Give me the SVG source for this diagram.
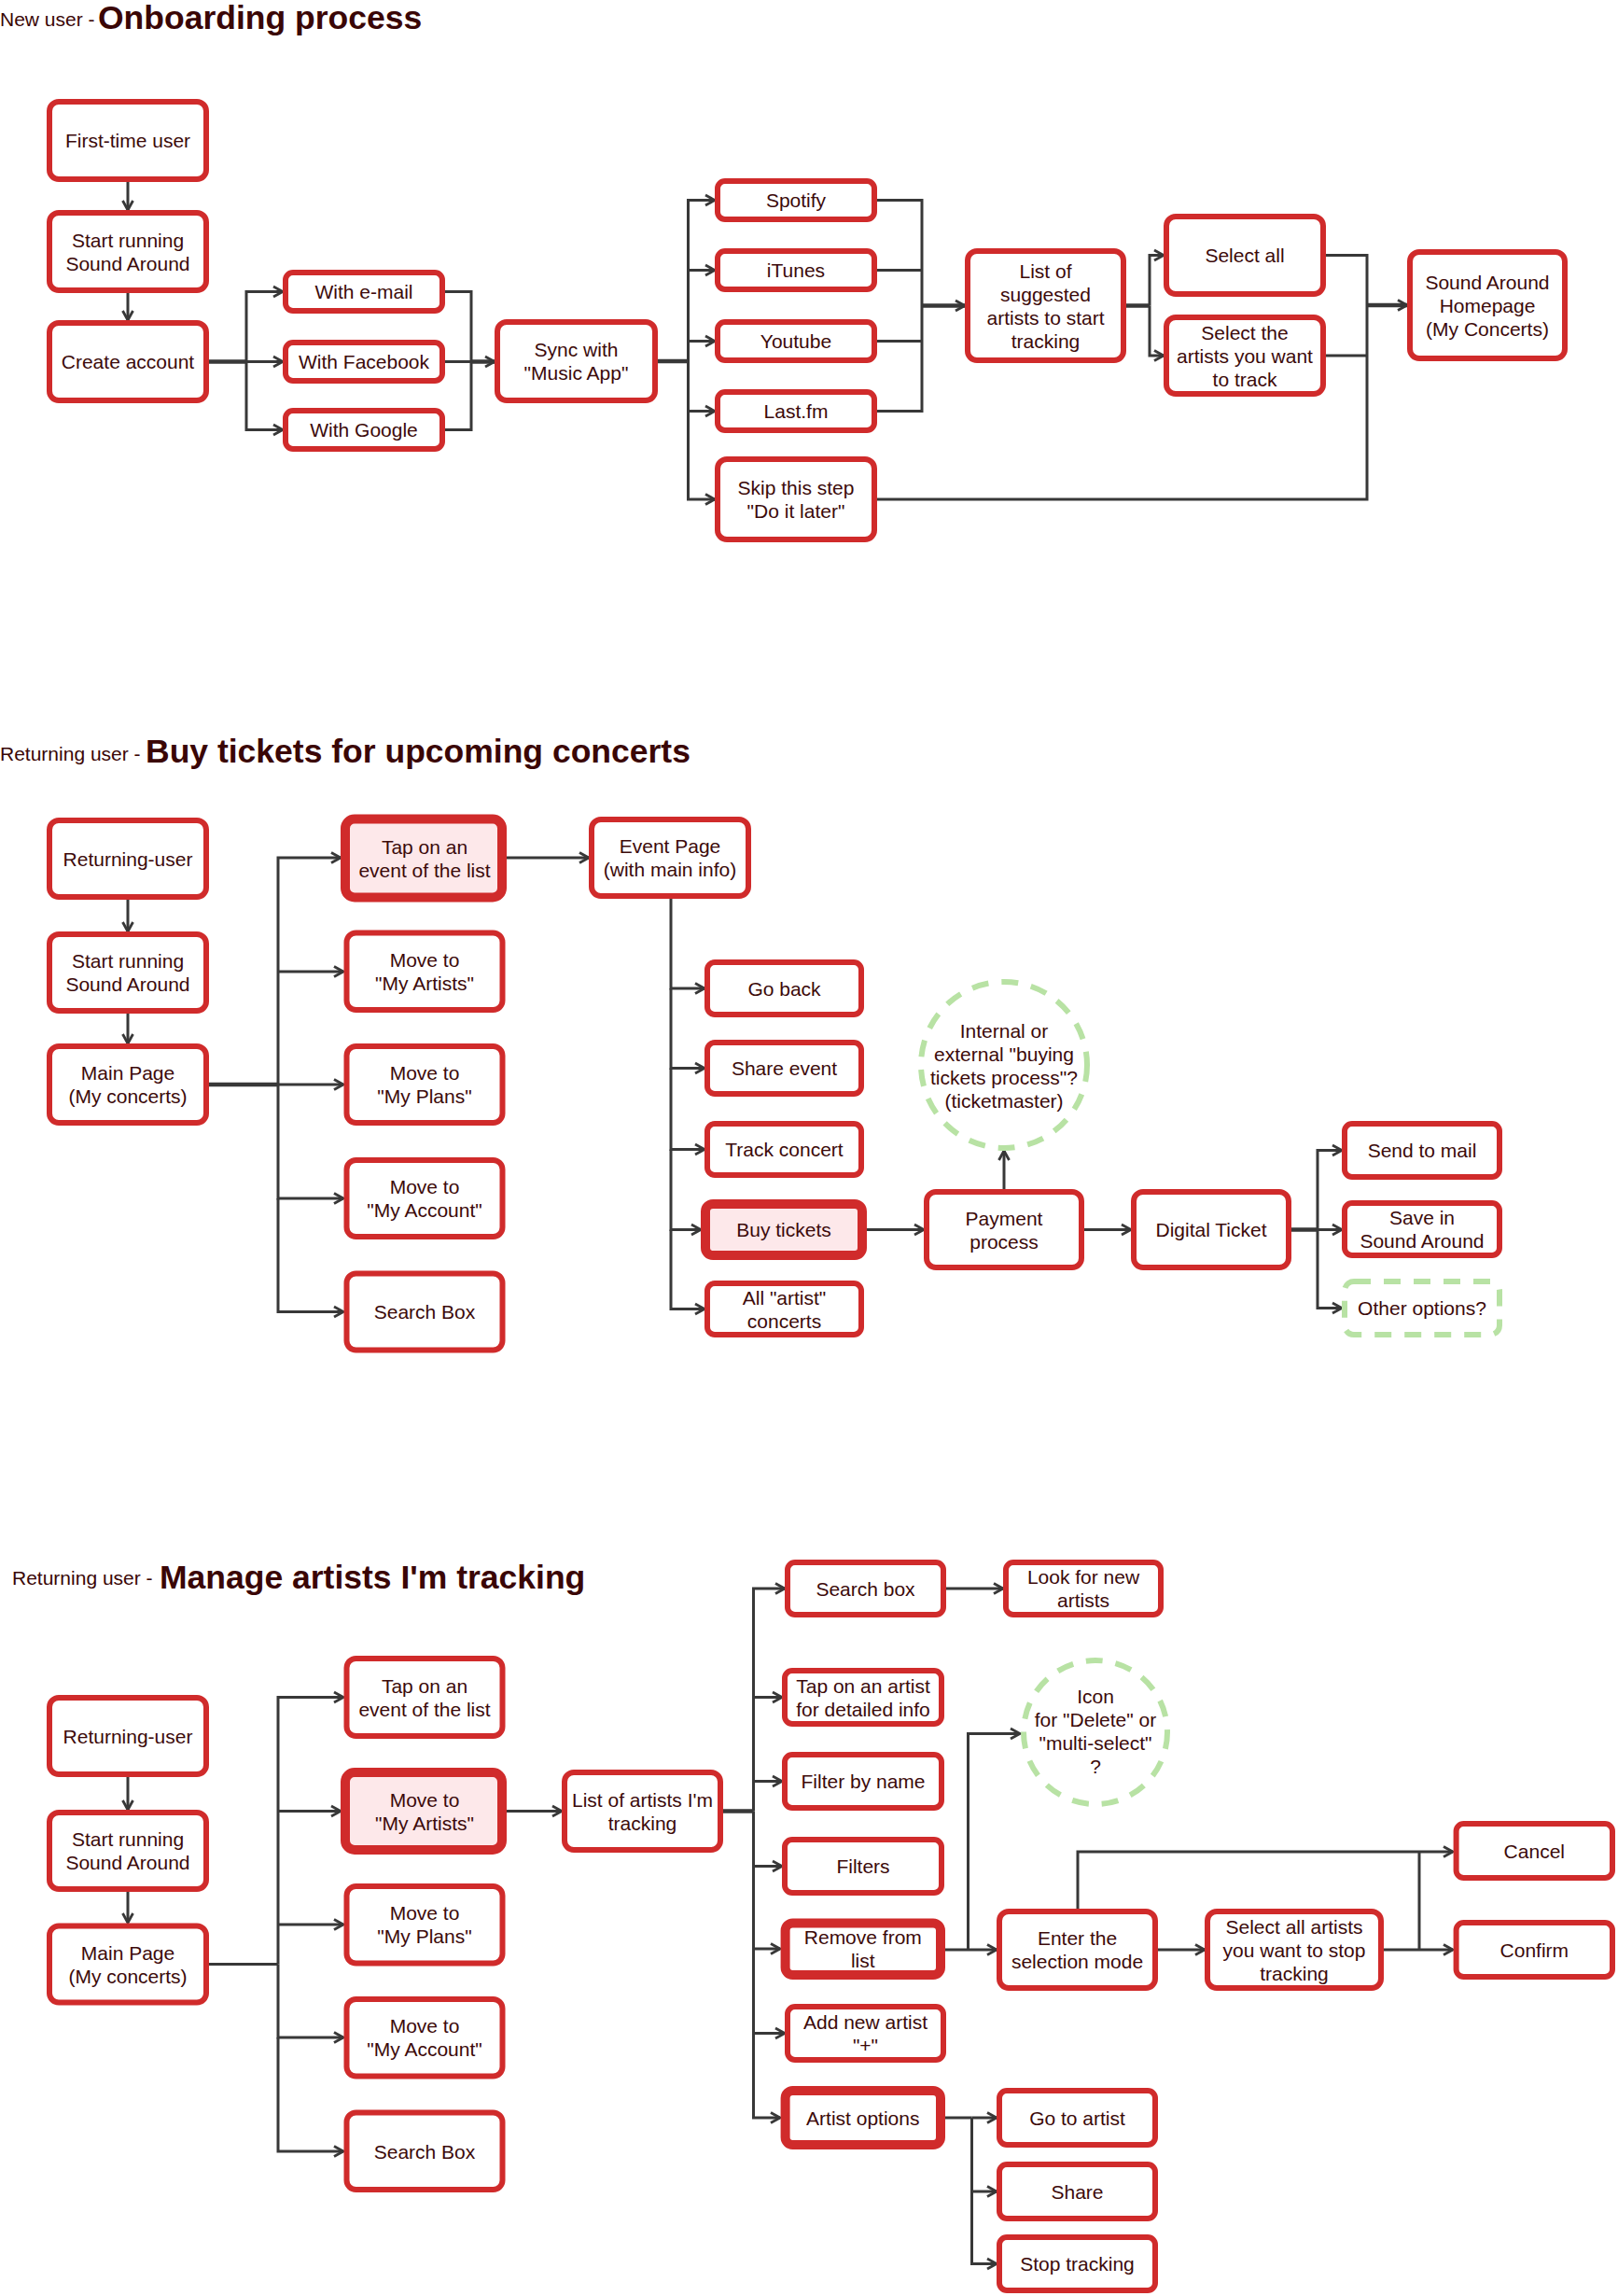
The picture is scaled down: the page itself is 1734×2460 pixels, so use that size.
<svg xmlns="http://www.w3.org/2000/svg" width="1734" height="2460" viewBox="0 0 1734 2460">
<defs>
<style>
.n{fill:#fff;stroke:#d02b2b;stroke-width:6}
.h{fill:#fde8ea;stroke:#d02b2b;stroke-width:10}
.g{fill:#fff;stroke:#b8e2a4;stroke-width:6;stroke-dasharray:18 14}
.t{font-family:"Liberation Sans",Arial,sans-serif;font-size:21px;fill:#3c0a0a;text-anchor:middle}
.sub{font-family:"Liberation Sans",Arial,sans-serif;font-size:21px;fill:#3a0606}
.ttl{font-family:"Liberation Sans",Arial,sans-serif;font-size:35.5px;font-weight:bold;fill:#3a0606}
.c{fill:none;stroke:#383838;stroke-width:3}
.a{marker-end:url(#ar)}
.k{stroke-width:4.5}
</style>
<marker id="ar" markerUnits="userSpaceOnUse" markerWidth="16" markerHeight="16" refX="13" refY="8" orient="auto">
<path d="M3,2.5 L13,8 L3,13.5" fill="none" stroke="#383838" stroke-width="2.8"/>
</marker>
</defs>
<rect width="1734" height="2460" fill="#fff"/>

<!-- Titles -->
<text class="sub" x="0" y="28">New user -</text>
<text class="ttl" x="105" y="31">Onboarding process</text>
<text class="sub" x="0" y="815">Returning user -</text>
<text class="ttl" x="156" y="817">Buy tickets for upcoming concerts</text>
<text class="sub" x="13" y="1698">Returning user -</text>
<text class="ttl" x="171" y="1702">Manage artists I'm tracking</text>

<!-- Connectors -->
<g id="connectors">
<!-- Section 1 -->
<path class="c a" d="M137,195 V225"/>
<path class="c a" d="M137,314 V343"/>
<path class="c k" d="M224,387.5 H264"/>
<path class="c a" d="M264,387.5 V312.5 H303"/>
<path class="c a" d="M264,387.5 H303"/>
<path class="c a" d="M264,387.5 V460.5 H303"/>
<path class="c" d="M477,312.5 H505 V460.5 H477"/>
<path class="c" d="M477,387.5 H505"/>
<path class="c k a" d="M505,387.5 H530"/>
<path class="c k" d="M705,387 H737.5"/>
<path class="c a" d="M737.5,387 V214.5 H766"/>
<path class="c a" d="M737.5,289.5 H766"/>
<path class="c a" d="M737.5,365.5 H766"/>
<path class="c a" d="M737.5,387 V440.5 H766"/>
<path class="c a" d="M737.5,440.5 V535 H766"/>
<path class="c" d="M940,214.5 H988 V440.5 H940"/>
<path class="c" d="M940,289.5 H988 M940,365.5 H988"/>
<path class="c k a" d="M988,327.5 H1034"/>
<path class="c k" d="M1207,327.5 H1232"/>
<path class="c a" d="M1232,327.5 V273.5 H1247"/>
<path class="c a" d="M1232,327.5 V381 H1247"/>
<path class="c" d="M1421,273.5 H1465 V535 H940"/>
<path class="c" d="M1421,381 H1465"/>
<path class="c k a" d="M1465,327 H1508"/>
<!-- Section 2 -->
<path class="c a" d="M137,964 V998"/>
<path class="c a" d="M137,1086 V1118"/>
<path class="c k" d="M223,1162 H298"/>
<path class="c a" d="M298,1162 V919 H365"/>
<path class="c a" d="M298,1041 H368"/>
<path class="c a" d="M298,1162 H368"/>
<path class="c a" d="M298,1162 V1284 H368"/>
<path class="c a" d="M298,1284 V1405.5 H368"/>
<path class="c a" d="M543,919 H631"/>
<path class="c a" d="M719,963 V1059 H755"/>
<path class="c a" d="M719,1059 V1144.5 H755"/>
<path class="c a" d="M719,1144.5 V1231.5 H755"/>
<path class="c a" d="M719,1231.5 V1317.5 H751"/>
<path class="c a" d="M719,1317.5 V1402.5 H755"/>
<path class="c a" d="M929,1317.5 H990"/>
<path class="c a" d="M1076,1274 V1233"/>
<path class="c a" d="M1162,1317.5 H1212"/>
<path class="c k" d="M1384,1317.5 H1412"/>
<path class="c a" d="M1412,1317.5 V1232.5 H1438"/>
<path class="c a" d="M1412,1317.5 H1438"/>
<path class="c a" d="M1412,1317.5 V1401.5 H1438"/>
<!-- Section 3 -->
<path class="c a" d="M137,1904 V1939"/>
<path class="c a" d="M137,2027 V2060"/>
<path class="c" d="M223,2104.5 H298"/>
<path class="c a" d="M298,2104.5 V1818.5 H368"/>
<path class="c a" d="M298,1940.5 H365"/>
<path class="c a" d="M298,2062 H368"/>
<path class="c a" d="M298,2104.5 V2183 H368"/>
<path class="c a" d="M298,2183 V2305 H368"/>
<path class="c a" d="M543,1940.5 H602"/>
<path class="c k" d="M775,1940.5 H807.5"/>
<path class="c a" d="M807.5,1940.5 V1702 H841"/>
<path class="c a" d="M807.5,1818.5 H838"/>
<path class="c a" d="M807.5,1908.5 H838"/>
<path class="c a" d="M807.5,1940.5 V1999.5 H838"/>
<path class="c a" d="M807.5,1999.5 V2088 H836"/>
<path class="c a" d="M807.5,2088 V2178.5 H841"/>
<path class="c a" d="M807.5,2178.5 V2269 H836"/>
<path class="c a" d="M1014,1702 H1075"/>
<path class="c a" d="M1013,2089 H1068"/>
<path class="c a" d="M1037.5,2089 V1857.5 H1093"/>
<path class="c a" d="M1241,2089 H1291"/>
<path class="c a" d="M1155,2045 V1984 H1557"/>
<path class="c a" d="M1483,2089 H1557"/>
<path class="c" d="M1521,2089 V1984"/>
<path class="c" d="M1013,2269 H1041.5"/>
<path class="c a" d="M1041.5,2269 H1068"/>
<path class="c a" d="M1041.5,2269 V2348 H1068"/>
<path class="c a" d="M1041.5,2348 V2425.5 H1068"/>
</g>

<!-- Section 1 nodes -->
<g id="first-time-user"><rect class="n" x="53" y="109" width="168" height="83" rx="10"/><text class="t" x="137" y="158">First-time user</text></g>
<g id="start-running-1"><rect class="n" x="53" y="228" width="168" height="83" rx="10"/><text class="t" x="137" y="264.5">Start running</text><text class="t" x="137" y="289.5">Sound Around</text></g>
<g id="create-account"><rect class="n" x="53" y="346" width="168" height="83" rx="10"/><text class="t" x="137" y="395">Create account</text></g>
<g id="with-email"><rect class="n" x="306" y="292" width="168" height="41" rx="8"/><text class="t" x="390" y="320">With e-mail</text></g>
<g id="with-facebook"><rect class="n" x="306" y="367" width="168" height="41" rx="8"/><text class="t" x="390" y="395">With Facebook</text></g>
<g id="with-google"><rect class="n" x="306" y="440" width="168" height="41" rx="8"/><text class="t" x="390" y="468">With Google</text></g>
<g id="sync"><rect class="n" x="533" y="345" width="169" height="84" rx="10"/><text class="t" x="617.5" y="382">Sync with</text><text class="t" x="617.5" y="407">"Music App"</text></g>
<g id="spotify"><rect class="n" x="769" y="194" width="168" height="41" rx="8"/><text class="t" x="853" y="222">Spotify</text></g>
<g id="itunes"><rect class="n" x="769" y="269" width="168" height="41" rx="8"/><text class="t" x="853" y="297">iTunes</text></g>
<g id="youtube"><rect class="n" x="769" y="345" width="168" height="41" rx="8"/><text class="t" x="853" y="373">Youtube</text></g>
<g id="lastfm"><rect class="n" x="769" y="420" width="168" height="41" rx="8"/><text class="t" x="853" y="448">Last.fm</text></g>
<g id="skip"><rect class="n" x="769" y="492" width="168" height="86" rx="10"/><text class="t" x="853" y="530">Skip this step</text><text class="t" x="853" y="555">"Do it later"</text></g>
<g id="suggested-list"><rect class="n" x="1037" y="269" width="167" height="117" rx="10"/><text class="t" x="1120.5" y="297.5">List of</text><text class="t" x="1120.5" y="322.5">suggested</text><text class="t" x="1120.5" y="347.5">artists to start</text><text class="t" x="1120.5" y="372.5">tracking</text></g>
<g id="select-all"><rect class="n" x="1250" y="232" width="168" height="83" rx="10"/><text class="t" x="1334" y="281">Select all</text></g>
<g id="select-the-artists"><rect class="n" x="1250" y="340" width="168" height="82" rx="10"/><text class="t" x="1334" y="363.5">Select the</text><text class="t" x="1334" y="388.5">artists you want</text><text class="t" x="1334" y="413.5">to track</text></g>
<g id="homepage"><rect class="n" x="1511" y="270" width="166" height="114" rx="10"/><text class="t" x="1594" y="309.5">Sound Around</text><text class="t" x="1594" y="334.5">Homepage</text><text class="t" x="1594" y="359.5">(My Concerts)</text></g>

<!-- Section 2 nodes -->
<g id="returning-user-2"><rect class="n" x="53" y="879" width="168" height="82" rx="10"/><text class="t" x="137" y="927.5">Returning-user</text></g>
<g id="start-running-2"><rect class="n" x="53" y="1001" width="168" height="82" rx="10"/><text class="t" x="137" y="1037">Start running</text><text class="t" x="137" y="1062">Sound Around</text></g>
<g id="main-page-2"><rect class="n" x="53" y="1121" width="168" height="82" rx="10"/><text class="t" x="137" y="1157">Main Page</text><text class="t" x="137" y="1182">(My concerts)</text></g>
<g id="tap-event-2"><rect class="h" x="370" y="877.5" width="168" height="84" rx="10"/><text class="t" x="455" y="914.5">Tap on an</text><text class="t" x="455" y="939.5">event of the list</text></g>
<g id="my-artists-2"><rect class="n" x="371.5" y="999.5" width="167" height="82.5" rx="10"/><text class="t" x="455" y="1036">Move to</text><text class="t" x="455" y="1061">"My Artists"</text></g>
<g id="my-plans-2"><rect class="n" x="371.5" y="1121" width="167" height="82" rx="10"/><text class="t" x="455" y="1157">Move to</text><text class="t" x="455" y="1182">"My Plans"</text></g>
<g id="my-account-2"><rect class="n" x="371.5" y="1243" width="167" height="82" rx="10"/><text class="t" x="455" y="1279">Move to</text><text class="t" x="455" y="1304">"My Account"</text></g>
<g id="search-box-2"><rect class="n" x="371.5" y="1364.5" width="167" height="82" rx="10"/><text class="t" x="455" y="1413">Search Box</text></g>
<g id="event-page"><rect class="n" x="634" y="878" width="168" height="82" rx="10"/><text class="t" x="718" y="914">Event Page</text><text class="t" x="718" y="939">(with main info)</text></g>
<g id="go-back"><rect class="n" x="758" y="1031" width="165" height="56" rx="8"/><text class="t" x="840.5" y="1066.5">Go back</text></g>
<g id="share-event"><rect class="n" x="758" y="1117" width="165" height="55" rx="8"/><text class="t" x="840.5" y="1152">Share event</text></g>
<g id="track-concert"><rect class="n" x="758" y="1204" width="165" height="55" rx="8"/><text class="t" x="840.5" y="1239">Track concert</text></g>
<g id="buy-tickets"><rect class="h" x="756" y="1290" width="168" height="55" rx="8"/><text class="t" x="840" y="1325">Buy tickets</text></g>
<g id="all-artist-concerts"><rect class="n" x="758" y="1375" width="165" height="55" rx="8"/><text class="t" x="840.5" y="1397.5">All "artist"</text><text class="t" x="840.5" y="1422.5">concerts</text></g>
<g id="payment"><rect class="n" x="993" y="1277" width="166" height="81" rx="10"/><text class="t" x="1076" y="1312.5">Payment</text><text class="t" x="1076" y="1337.5">process</text></g>
<g id="digital-ticket"><rect class="n" x="1215" y="1277" width="166" height="81" rx="10"/><text class="t" x="1298" y="1325">Digital Ticket</text></g>
<g id="buying-process-note"><circle class="g" cx="1076" cy="1141" r="89"/><text class="t" x="1076" y="1112">Internal or</text><text class="t" x="1076" y="1137">external "buying</text><text class="t" x="1076" y="1162">tickets process"?</text><text class="t" x="1076" y="1187">(ticketmaster)</text></g>
<g id="send-to-mail"><rect class="n" x="1441" y="1204" width="166" height="57" rx="8"/><text class="t" x="1524" y="1240">Send to mail</text></g>
<g id="save-in"><rect class="n" x="1441" y="1289" width="166" height="56" rx="8"/><text class="t" x="1524" y="1312">Save in</text><text class="t" x="1524" y="1337">Sound Around</text></g>
<g id="other-options"><rect class="g" x="1441" y="1373" width="166" height="57" rx="10"/><text class="t" x="1524" y="1409">Other options?</text></g>

<!-- Section 3 nodes -->
<g id="returning-user-3"><rect class="n" x="53" y="1819" width="168" height="82" rx="10"/><text class="t" x="137" y="1867.5">Returning-user</text></g>
<g id="start-running-3"><rect class="n" x="53" y="1942" width="168" height="82" rx="10"/><text class="t" x="137" y="1978">Start running</text><text class="t" x="137" y="2003">Sound Around</text></g>
<g id="main-page-3"><rect class="n" x="53" y="2063.5" width="168" height="82" rx="10"/><text class="t" x="137" y="2099.5">Main Page</text><text class="t" x="137" y="2124.5">(My concerts)</text></g>
<g id="tap-event-3"><rect class="n" x="371.5" y="1777" width="167" height="83" rx="10"/><text class="t" x="455" y="1813.5">Tap on an</text><text class="t" x="455" y="1838.5">event of the list</text></g>
<g id="my-artists-3"><rect class="h" x="370" y="1899" width="168" height="83" rx="10"/><text class="t" x="455" y="1935.5">Move to</text><text class="t" x="455" y="1960.5">"My Artists"</text></g>
<g id="my-plans-3"><rect class="n" x="371.5" y="2021" width="167" height="82.5" rx="10"/><text class="t" x="455" y="2057">Move to</text><text class="t" x="455" y="2082">"My Plans"</text></g>
<g id="my-account-3"><rect class="n" x="371.5" y="2142" width="167" height="82.5" rx="10"/><text class="t" x="455" y="2178">Move to</text><text class="t" x="455" y="2203">"My Account"</text></g>
<g id="search-box-3"><rect class="n" x="371.5" y="2263.5" width="167" height="82.5" rx="10"/><text class="t" x="455" y="2312.5">Search Box</text></g>
<g id="artists-list"><rect class="n" x="605" y="1899" width="167" height="83" rx="10"/><text class="t" x="688.5" y="1935.5">List of artists I'm</text><text class="t" x="688.5" y="1960.5">tracking</text></g>
<g id="search-box-list"><rect class="n" x="844" y="1674" width="167" height="56" rx="8"/><text class="t" x="927.5" y="1709.5">Search box</text></g>
<g id="look-for-new"><rect class="n" x="1078" y="1674" width="166" height="56" rx="8"/><text class="t" x="1161" y="1697">Look for new</text><text class="t" x="1161" y="1722">artists</text></g>
<g id="tap-artist"><rect class="n" x="841" y="1790" width="168" height="57" rx="8"/><text class="t" x="925" y="1813.5">Tap on an artist</text><text class="t" x="925" y="1838.5">for detailed info</text></g>
<g id="filter-by-name"><rect class="n" x="841" y="1880" width="168" height="57" rx="8"/><text class="t" x="925" y="1916">Filter by name</text></g>
<g id="filters"><rect class="n" x="841" y="1971" width="168" height="57" rx="8"/><text class="t" x="925" y="2007">Filters</text></g>
<g id="remove-from-list"><rect class="h" x="841.6" y="2060.5" width="166.4" height="55.5" rx="8" style="fill:#fff"/><text class="t" x="924.8" y="2083">Remove from</text><text class="t" x="924.8" y="2108">list</text></g>
<g id="add-new-artist"><rect class="n" x="844" y="2150" width="167" height="57" rx="8"/><text class="t" x="927.5" y="2173.5">Add new artist</text><text class="t" x="927.5" y="2198.5">"+"</text></g>
<g id="artist-options"><rect class="h" x="841.6" y="2240" width="166.4" height="58" rx="8" style="fill:#fff"/><text class="t" x="924.8" y="2276.5">Artist options</text></g>
<g id="go-to-artist"><rect class="n" x="1071" y="2240" width="167" height="58" rx="8"/><text class="t" x="1154.5" y="2276.5">Go to artist</text></g>
<g id="share"><rect class="n" x="1071" y="2319" width="167" height="58" rx="8"/><text class="t" x="1154.5" y="2355.5">Share</text></g>
<g id="stop-tracking"><rect class="n" x="1071" y="2397" width="167" height="57" rx="8"/><text class="t" x="1154.5" y="2433">Stop tracking</text></g>
<g id="enter-selection"><rect class="n" x="1071" y="2048" width="167" height="82" rx="10"/><text class="t" x="1154.5" y="2084">Enter the</text><text class="t" x="1154.5" y="2109">selection mode</text></g>
<g id="select-all-artists"><rect class="n" x="1294" y="2048" width="186" height="82" rx="10"/><text class="t" x="1387" y="2071.5">Select all artists</text><text class="t" x="1387" y="2096.5">you want to stop</text><text class="t" x="1387" y="2121.5">tracking</text></g>
<g id="cancel"><rect class="n" x="1560.6" y="1954" width="167.4" height="58" rx="8"/><text class="t" x="1644.3" y="1990.5">Cancel</text></g>
<g id="confirm"><rect class="n" x="1560.6" y="2060" width="167.4" height="58" rx="8"/><text class="t" x="1644.3" y="2096.5">Confirm</text></g>
<g id="icon-note"><circle class="g" cx="1174" cy="1856" r="77"/><text class="t" x="1174" y="1824.5">Icon</text><text class="t" x="1174" y="1849.5">for "Delete" or</text><text class="t" x="1174" y="1874.5">"multi-select"</text><text class="t" x="1174" y="1900">?</text></g>
</svg>
